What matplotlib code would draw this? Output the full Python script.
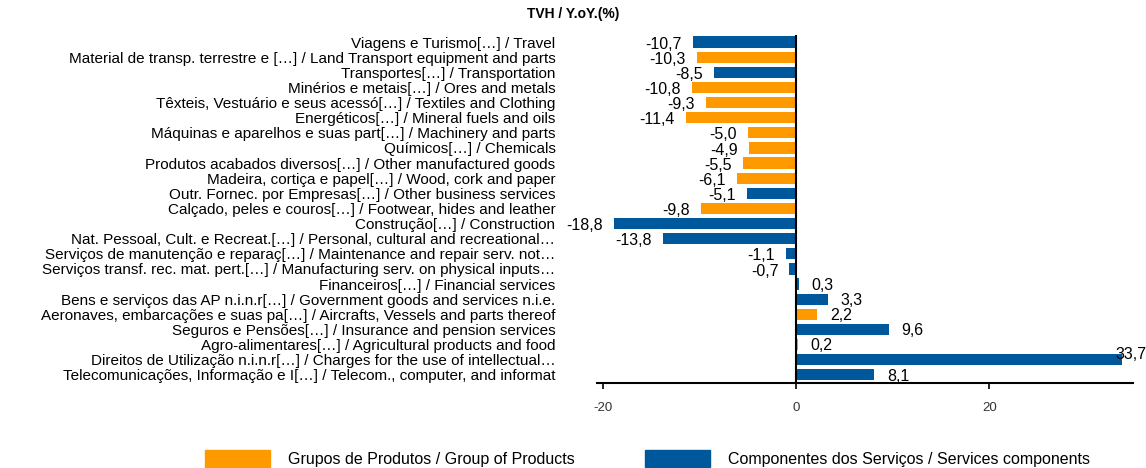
import matplotlib
matplotlib.use("Agg")
import matplotlib.pyplot as plt
from matplotlib.patches import Patch

plt.rcParams["font.family"] = ["Liberation Sans", "DejaVu Sans"]
plt.rcParams["axes.unicode_minus"] = False

labels = [
    "Viagens e Turismo[…] / Travel",
    "Material de transp. terrestre e […] / Land Transport equipment and parts",
    "Transportes[…] / Transportation",
    "Minérios e metais[…] / Ores and metals",
    "Têxteis, Vestuário e seus acessó[…] / Textiles and Clothing",
    "Energéticos[…] / Mineral fuels and oils",
    "Máquinas e aparelhos e suas part[…] / Machinery and parts",
    "Químicos[…] / Chemicals",
    "Produtos acabados diversos[…] / Other manufactured goods",
    "Madeira, cortiça e papel[…] / Wood, cork and paper",
    "Outr. Fornec. por Empresas[…] / Other business services",
    "Calçado, peles e couros[…] / Footwear, hides and leather",
    "Construção[…] / Construction",
    "Nat. Pessoal, Cult. e Recreat.[…] / Personal, cultural and recreational…",
    "Serviços de manutenção e reparaç[…] / Maintenance and repair serv. not…",
    "Serviços transf. rec. mat. pert.[…] / Manufacturing serv. on physical inputs…",
    "Financeiros[…] / Financial services",
    "Bens e serviços das AP n.i.n.r[…] / Government goods and services n.i.e.",
    "Aeronaves, embarcações e suas pa[…] / Aircrafts, Vessels and parts thereof",
    "Seguros e Pensões[…] / Insurance and pension services",
    "Agro-alimentares[…] / Agricultural products and food",
    "Direitos de Utilização n.i.n.r[…] / Charges for the use of intellectual…",
    "Telecomunicações, Informação e I[…] / Telecom., computer, and informat",
]
values = [-10.7, -10.3, -8.5, -10.8, -9.3, -11.4, -5.0, -4.9, -5.5, -6.1, -5.1,
          -9.8, -18.8, -13.8, -1.1, -0.7, 0.3, 3.3, 2.2, 9.6, 0.2, 33.7, 8.1]
# G = goods (products), S = services
kinds = ["S", "G", "S", "G", "G", "G", "G", "G", "G", "G", "S",
         "G", "S", "S", "S", "S", "S", "S", "G", "S", "G", "S", "S"]

ORANGE = "#FF9900"
BLUE = "#00589C"
colors = [ORANGE if k == "G" else BLUE for k in kinds]

fig = plt.figure(figsize=(11.46, 4.68), dpi=100)
ax = fig.add_axes([0.521, 0.182, 0.468, 0.743])

y = list(range(len(values)))
ax.barh(y, values, height=0.75, color=colors)

ax.set_xlim(-20.6, 34.9)
ax.set_ylim(len(values) - 1 + 0.53, -0.46)

for yi, v in zip(y, values):
    txt = f"{v:.1f}".replace(".", ",")
    if v < 0:
        ax.annotate(txt, (v, yi), xytext=(-8, -1.5), textcoords="offset points",
                    ha="right", va="center", fontsize=11.5)
    elif v > 30:
        ax.annotate(txt, (v, yi), xytext=(18, 4), textcoords="offset points",
                    ha="right", va="center", fontsize=11.5, annotation_clip=False)
    else:
        ax.annotate(txt, (v, yi), xytext=(9, -1), textcoords="offset points",
                    ha="left", va="center", fontsize=11.5)

ax.axvline(0, color="black", linewidth=1.5)
ax.set_yticks(y)
ax.set_yticklabels(labels, fontsize=11)
ax.tick_params(axis="y", length=0, pad=30)
ax.set_xticks([-20, 0, 20])
ax.tick_params(axis="x", direction="out", length=4, width=1.2, labelsize=9.5,
               labelcolor="#333333", pad=10)

for s in ["top", "right", "left"]:
    ax.spines[s].set_visible(False)
ax.spines["bottom"].set_linewidth(1.5)

fig.suptitle("TVH / Y.oY.(%)", x=0.5, y=0.985, fontsize=10, fontweight="bold")

handles = [Patch(color=ORANGE, label="Grupos de Produtos / Group of Products"),
           Patch(color=BLUE, label="Componentes dos Serviços / Services components")]
fig.legend(handles=handles, loc="center", bbox_to_anchor=(0.565, 0.02), ncol=2,
           frameon=False, fontsize=11.5, handlelength=4.1, handleheight=1.2,
           columnspacing=4.4, handletextpad=1.1)

fig.savefig("out.png", dpi=100)
